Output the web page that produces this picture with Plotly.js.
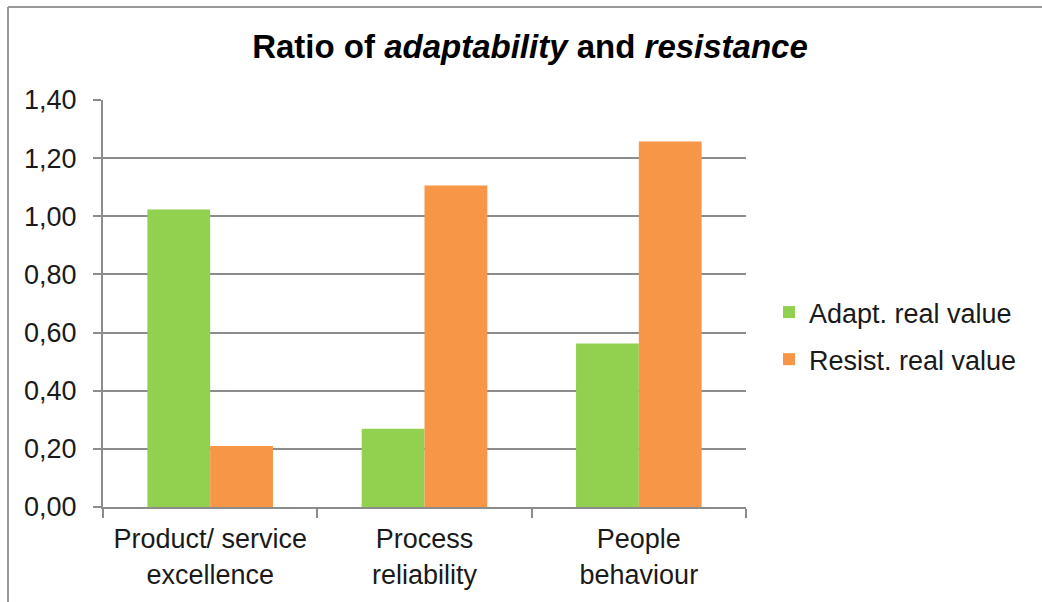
<!DOCTYPE html>
<html>
<head>
<meta charset="utf-8">
<script src="https://cdn.plot.ly/plotly-3.0.1.min.js"></script>
<style>
  html, body { margin: 0; padding: 0; background: #ffffff; }
  #chart { width: 1042px; height: 602px; }
</style>
</head>
<body>
<div id="chart"></div>
<script>
// Categories (two-line tick labels)
const categories = ["Product/ service<br>excellence", "Process<br>reliability", "People<br>behaviour"];

// Series values
const adaptValues = [1.023, 0.269, 0.562];
const resistValues = [0.21, 1.106, 1.257];

// Series names
const adaptName = "Adapt. real value";
const resistName = "Resist. real value";

// Y axis ticks
const yTickValues = [0, 0.2, 0.4, 0.6, 0.8, 1.0, 1.2, 1.4];

const FONT = '"Liberation Sans", Arial, sans-serif';
const GRID = '#8c8c8c';

const traces = [
  {
    type: 'bar',
    name: adaptName,
    legendgroup: 'adapt',
    x: categories,
    y: adaptValues,
    marker: { color: '#92D050' },
    hoverinfo: 'skip'
  },
  {
    type: 'bar',
    name: resistName,
    legendgroup: 'resist',
    x: categories,
    y: resistValues,
    marker: { color: '#F79646' },
    hoverinfo: 'skip'
  }
];

const L = 103, R = 746, T = 100, B = 507;
const W = 1042, H = 602;
const px = v => (v - L) / (R - L);
const py = v => (B - v) / (B - T);

const layout = {
  width: W,
  height: H,
  margin: { l: L, r: W - R, t: T, b: H - B, pad: 0 },
  paper_bgcolor: '#ffffff',
  plot_bgcolor: '#ffffff',
  separators: ', ',
  font: { family: FONT, size: 27, color: '#1a1a1a' },
  title: {
    text: '<b>Ratio of <i>adaptability</i> and <i>resistance</i></b>',
    font: { family: FONT, size: 33, color: '#000000' },
    xref: 'container', x: 530 / W, xanchor: 'center',
    yref: 'container', y: 1 - 46 / H, yanchor: 'middle'
  },
  barmode: 'group',
  bargap: 0.414,
  bargroupgap: 0,
  xaxis: {
    type: 'category',
    showgrid: false,
    showline: true,
    linecolor: GRID,
    linewidth: 2,
    ticks: 'outside',
    tickson: 'boundaries',
    ticklen: 9,
    tickwidth: 2,
    tickcolor: GRID,
    ticklabelstandoff: 7,
    tickfont: { family: FONT, size: 27, color: '#1a1a1a' },
    zeroline: false,
    fixedrange: true
  },
  yaxis: {
    range: [0, 1.4],
    tickvals: yTickValues,
    tickformat: '.2f',
    showgrid: true,
    gridcolor: GRID,
    gridwidth: 2,
    showline: true,
    linecolor: GRID,
    linewidth: 2,
    ticks: 'outside',
    ticklen: 8,
    tickwidth: 2,
    tickcolor: GRID,
    ticklabelstandoff: 11,
    tickfont: { family: FONT, size: 27, color: '#1a1a1a' },
    zeroline: false,
    fixedrange: true
  },
  showlegend: true,
  legend: {
    x: px(769), xanchor: 'left',
    y: py(336), yanchor: 'middle',
    font: { family: FONT, size: 27, color: '#1a1a1a' },
    bgcolor: 'rgba(0,0,0,0)',
    borderwidth: 0,
    traceorder: 'grouped',
    tracegroupgap: 9
  },
  shapes: [
    // chart frame (left and top edges)
    {
      type: 'line', xref: 'paper', yref: 'paper', layer: 'below',
      x0: px(8), y0: py(7), x1: px(W + 5), y1: py(7),
      line: { color: '#999999', width: 2 }
    },
    {
      type: 'line', xref: 'paper', yref: 'paper', layer: 'below',
      x0: px(8), y0: py(7), x1: px(8), y1: py(H + 5),
      line: { color: '#999999', width: 2 }
    }
  ]
};

Plotly.newPlot('chart', traces, layout, { displayModeBar: false, staticPlot: true });
</script>
</body>
</html>
